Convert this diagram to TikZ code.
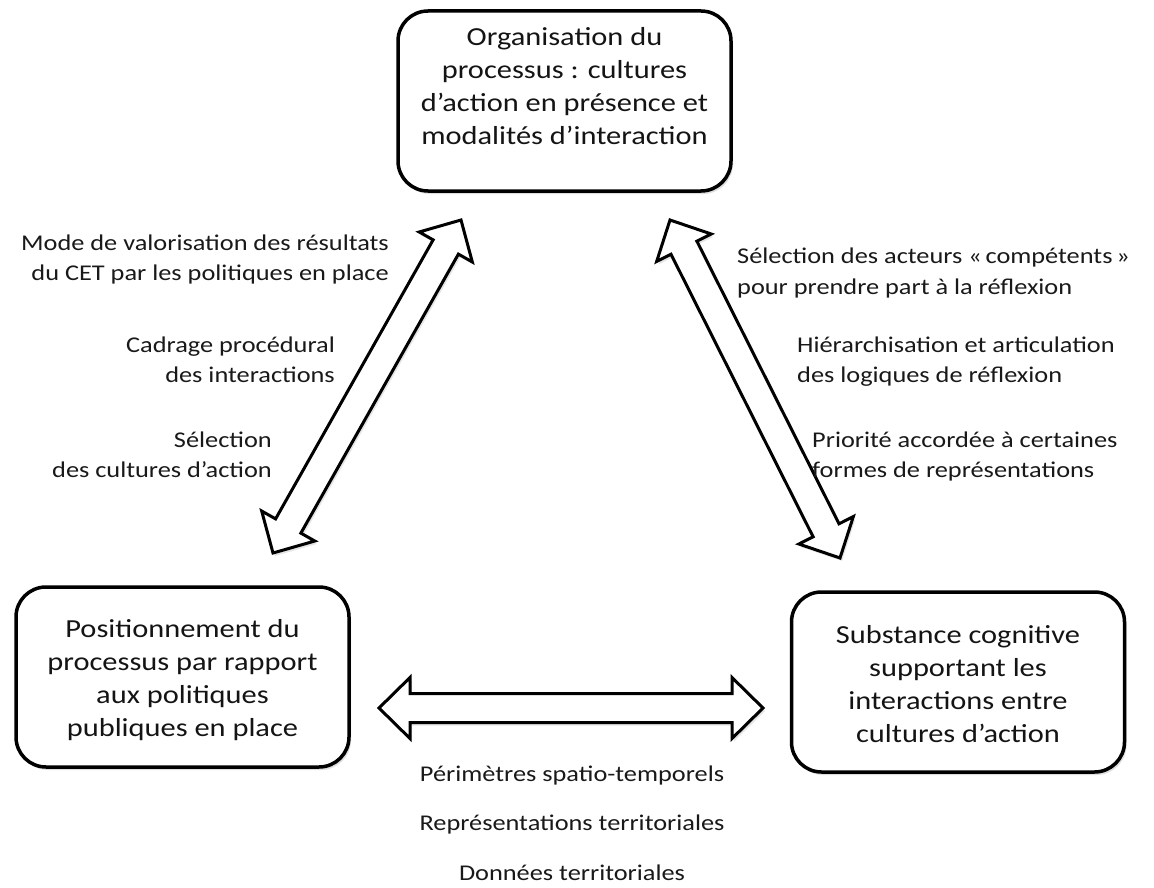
\documentclass[tikz,border=0pt]{standalone}
\usepackage{fontspec}
\setmainfont{Carlito}[FakeStretch=1.17]
\usetikzlibrary{calc,shadows}
\newcommand\hl{31pt}
\newcommand\hw{30.5pt}
\newcommand\sw{14.5pt}
\newcommand\dblarrow[2]{%
  \draw[blockarrow] (#1)
    -- ($(#1)!\hl!(#2)!\hw!90:(#2)$)
    -- ($(#1)!\hl!(#2)!\sw!90:(#2)$)
    -- ($(#2)!\hl!(#1)!\sw!-90:(#1)$)
    -- ($(#2)!\hl!(#1)!\hw!-90:(#1)$)
    -- (#2)
    -- ($(#2)!\hl!(#1)!\hw!90:(#1)$)
    -- ($(#2)!\hl!(#1)!\sw!90:(#1)$)
    -- ($(#1)!\hl!(#2)!\sw!-90:(#2)$)
    -- ($(#1)!\hl!(#2)!\hw!-90:(#2)$)
    -- cycle;}
\begin{document}
\begin{tikzpicture}[x=1pt,y=-1pt,
  box/.style={draw=black, line width=3.5pt, rounded corners=30pt, fill=white,
    minimum width=333pt, minimum height=180pt, inner sep=0pt,
    drop shadow={shadow xshift=2pt, shadow yshift=-3pt, opacity=0.25, fill=gray}},
  boxtext/.style={align=center, inner sep=0pt, text=black!92,
    font=\fontsize{26}{33}\selectfont},
  blockarrow/.style={draw=black, line width=3pt, line join=miter, fill=white,
    drop shadow={shadow xshift=2pt, shadow yshift=-3pt, opacity=0.2, fill=gray}},
  lbl/.style={inner sep=0pt, font=\fontsize{22.5}{30}\selectfont, text=black!90}]
\useasboundingbox[fill=white] (0,0) rectangle (1154,888);

\node[box] (org) at (564.5,101) {};
\node[boxtext] (orgt) at ([yshift=15pt]org.center) {Organisation du\\processus : cultures\\d’action en présence et\\modalités d’interaction};
\node[box] (pos) at (182.5,677) {};
\node[boxtext] (post) at ([yshift=-3pt]pos.center) {Positionnement du\\processus par rapport\\aux politiques\\publiques en place};
\node[box] (sub) at (958,682) {};
\node[boxtext] (subt) at ([yshift=-2pt]sub.center) {Substance cognitive\\supportant les\\interactions entre\\cultures d’action};

\coordinate (l1) at (461,220);
\coordinate (l2) at (273,553);
\coordinate (r1) at (670,220);
\coordinate (r2) at (840,558);
\coordinate (h1) at (379,708);
\coordinate (h2) at (763,708);

\dblarrow{l1}{l2}
\dblarrow{r1}{r2}
\dblarrow{h1}{h2}

\node[lbl, anchor=east, align=right] (t1) at (389,260) {Mode de valorisation des résultats\\du CET par les politiques en place};
\node[lbl, anchor=east, align=right] (t2) at (335,360) {Cadrage procédural\\des interactions};
\node[lbl, anchor=east, align=right] (t3) at (272,455) {Sélection\\des cultures d’action};

\node[lbl, anchor=west, align=left] (t4) at (737,273) {Sélection des acteurs «\,compétents\,»\\pour prendre part à la réflexion};
\node[lbl, anchor=west, align=left] (t5) at (797,362) {Hiérarchisation et articulation\\des logiques de réflexion};
\node[lbl, anchor=west, align=left] (t6) at (812,456) {Priorité accordée à certaines\\formes de représentations};

\node[lbl] (b1) at (572,775) {Périmètres spatio-temporels};
\node[lbl] (b2) at (572,824) {Représentations territoriales};
\node[lbl] (b3) at (572,873) {Données territoriales};
\end{tikzpicture}
\end{document}
